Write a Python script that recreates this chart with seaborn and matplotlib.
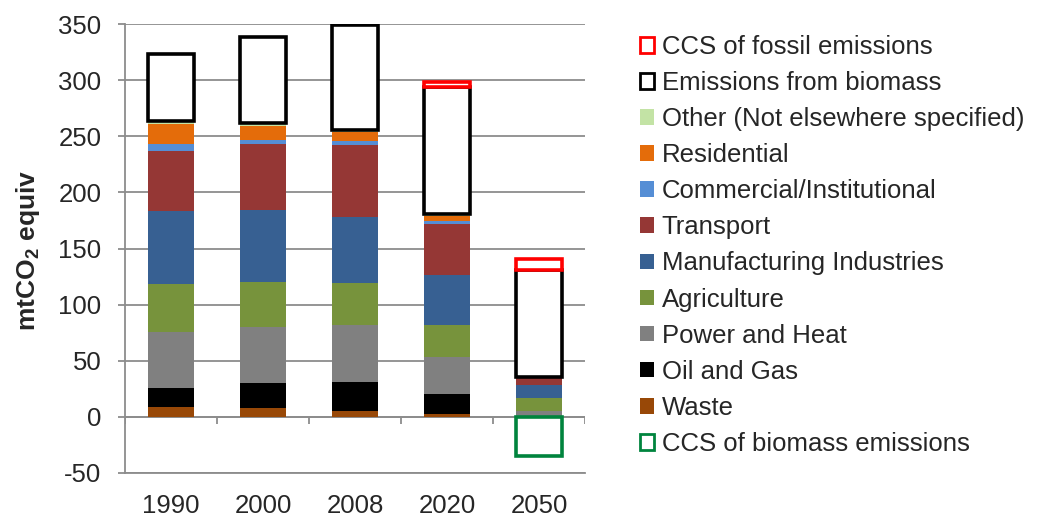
import numpy as np
import pandas as pd
import seaborn as sns
import matplotlib.pyplot as plt
from matplotlib.patches import Patch

years = ['1990', '2000', '2008', '2020', '2050']

# stacked from the bottom up (mtCO2 equiv)
waste = [9, 8, 5, 3, 0.5]
oil_gas = [17, 22.5, 26, 17, 0.5]
power_heat = [49.5, 49.5, 50.5, 33, 4.5]
agriculture = [43, 40, 37.5, 29, 11.5]
manufacturing = [64.5, 64, 59, 44, 11.5]
transport = [54, 59, 64.5, 46, 7]
commercial = [6.5, 3.5, 3, 2.5, 0]
residential = [17, 13, 8.5, 4.5, 0]
other = [3, 2.5, 1.5, 1.5, 0]
biomass = [60, 76, 93.5, 113, 95]
ccs_fossil = [0, 0, 0, 5, 10]
ccs_biomass = [0, 0, 0, 0, -35]

filled = [
    ('Waste', waste, '#984807'),
    ('Oil and Gas', oil_gas, '#000000'),
    ('Power and Heat', power_heat, '#808080'),
    ('Agriculture', agriculture, '#77933C'),
    ('Manufacturing Industries', manufacturing, '#376092'),
    ('Transport', transport, '#953735'),
    ('Commercial/Institutional', commercial, '#558ED5'),
    ('Residential', residential, '#E46C0A'),
    ('Other (Not elsewhere specified)', other, '#C3E3A5'),
]
outlined = [
    ('Emissions from biomass', biomass, '#000000'),
    ('CCS of fossil emissions', ccs_fossil, '#FF0000'),
]

sns.set_style('white')
plt.rcParams['font.family'] = ['Liberation Sans', 'DejaVu Sans']
plt.rcParams['mathtext.fontset'] = 'custom'
plt.rcParams['mathtext.rm'] = 'Liberation Sans'
plt.rcParams['mathtext.bf'] = 'Liberation Sans:bold'
plt.rcParams['axes.unicode_minus'] = False

fs = 18.5
fig = plt.figure(figsize=(10.37, 5.24), dpi=100)
ax = fig.add_axes([125 / 1037, 1 - 473 / 524, 460 / 1037, 449 / 524])

bar_w = 0.49
bottom = np.zeros(len(years))
for name, vals, col in filled:
    df = pd.DataFrame({'year': years, 'value': vals})
    sns.barplot(data=df, x='year', y='value', order=years, color=col, saturation=1,
                width=bar_w, errorbar=None, linewidth=0, bottom=bottom, ax=ax, zorder=3)
    bottom = bottom + np.array(vals)

for name, vals, col in outlined:
    vals = np.array(vals, dtype=float)
    keep = vals != 0
    df = pd.DataFrame({'year': np.array(years)[keep], 'value': vals[keep]})
    sns.barplot(data=df, x='year', y='value', order=years, color='white', saturation=1,
                width=bar_w, errorbar=None, facecolor='white', edgecolor=col, linewidth=2.6,
                bottom=bottom[keep], ax=ax, zorder=4)
    bottom = bottom + vals

# negative CCS of biomass
vals = np.array(ccs_biomass, dtype=float)
keep = vals != 0
df = pd.DataFrame({'year': np.array(years)[keep], 'value': vals[keep]})
sns.barplot(data=df, x='year', y='value', order=years, color='white', saturation=1,
            width=bar_w, errorbar=None, facecolor='white', edgecolor='#00843D', linewidth=2.6,
            ax=ax, zorder=4)

grid_c = '#8C8C8C'
ax.set_ylim(-50, 350)
ax.set_xlim(-0.5, len(years) - 0.5)
ax.set_yticks(np.arange(-50, 351, 50))
ax.yaxis.grid(True, color=grid_c, linewidth=1.3)
ax.set_axisbelow(True)
ax.axhline(0, color=grid_c, linewidth=1.3, zorder=2)
ax.vlines(np.arange(-0.5, len(years), 1.0), -6, 0, color=grid_c, linewidth=1.3, zorder=2)

for s in ['top', 'right']:
    ax.spines[s].set_visible(False)
ax.spines['left'].set_color(grid_c)
ax.spines['left'].set_linewidth(1.3)
ax.spines['bottom'].set_color(grid_c)
ax.spines['bottom'].set_linewidth(1.3)

ax.tick_params(axis='y', labelsize=fs, length=5, width=1.3, color=grid_c, pad=12, left=True)
ax.tick_params(axis='x', labelsize=fs, length=0, pad=15)
ax.set_xlabel('')
ax.set_ylabel('')
fig.text(28 / 1037, 1 - 250 / 524, r'mtCO$_\mathbf{2}$ equiv', rotation=90,
         ha='center', va='center', fontsize=19, fontweight='bold')

handles = [
    Patch(facecolor='white', edgecolor='#FF0000', linewidth=2, label='CCS of fossil emissions'),
    Patch(facecolor='white', edgecolor='#000000', linewidth=2, label='Emissions from biomass'),
]
for name, vals, col in reversed(filled):
    handles.append(Patch(facecolor=col, edgecolor='none', label=name))
handles.append(Patch(facecolor='white', edgecolor='#00843D', linewidth=2,
                     label='CCS of biomass emissions'))

fig.legend(handles=handles, loc='upper left', bbox_to_anchor=(640 / 1037, 1 - 35 / 524),
           frameon=False, fontsize=fs, handlelength=0.56, handleheight=0.56,
           handletextpad=0.28, labelspacing=0.47, borderpad=0, borderaxespad=0)

fig.savefig('out.png', dpi=100)
